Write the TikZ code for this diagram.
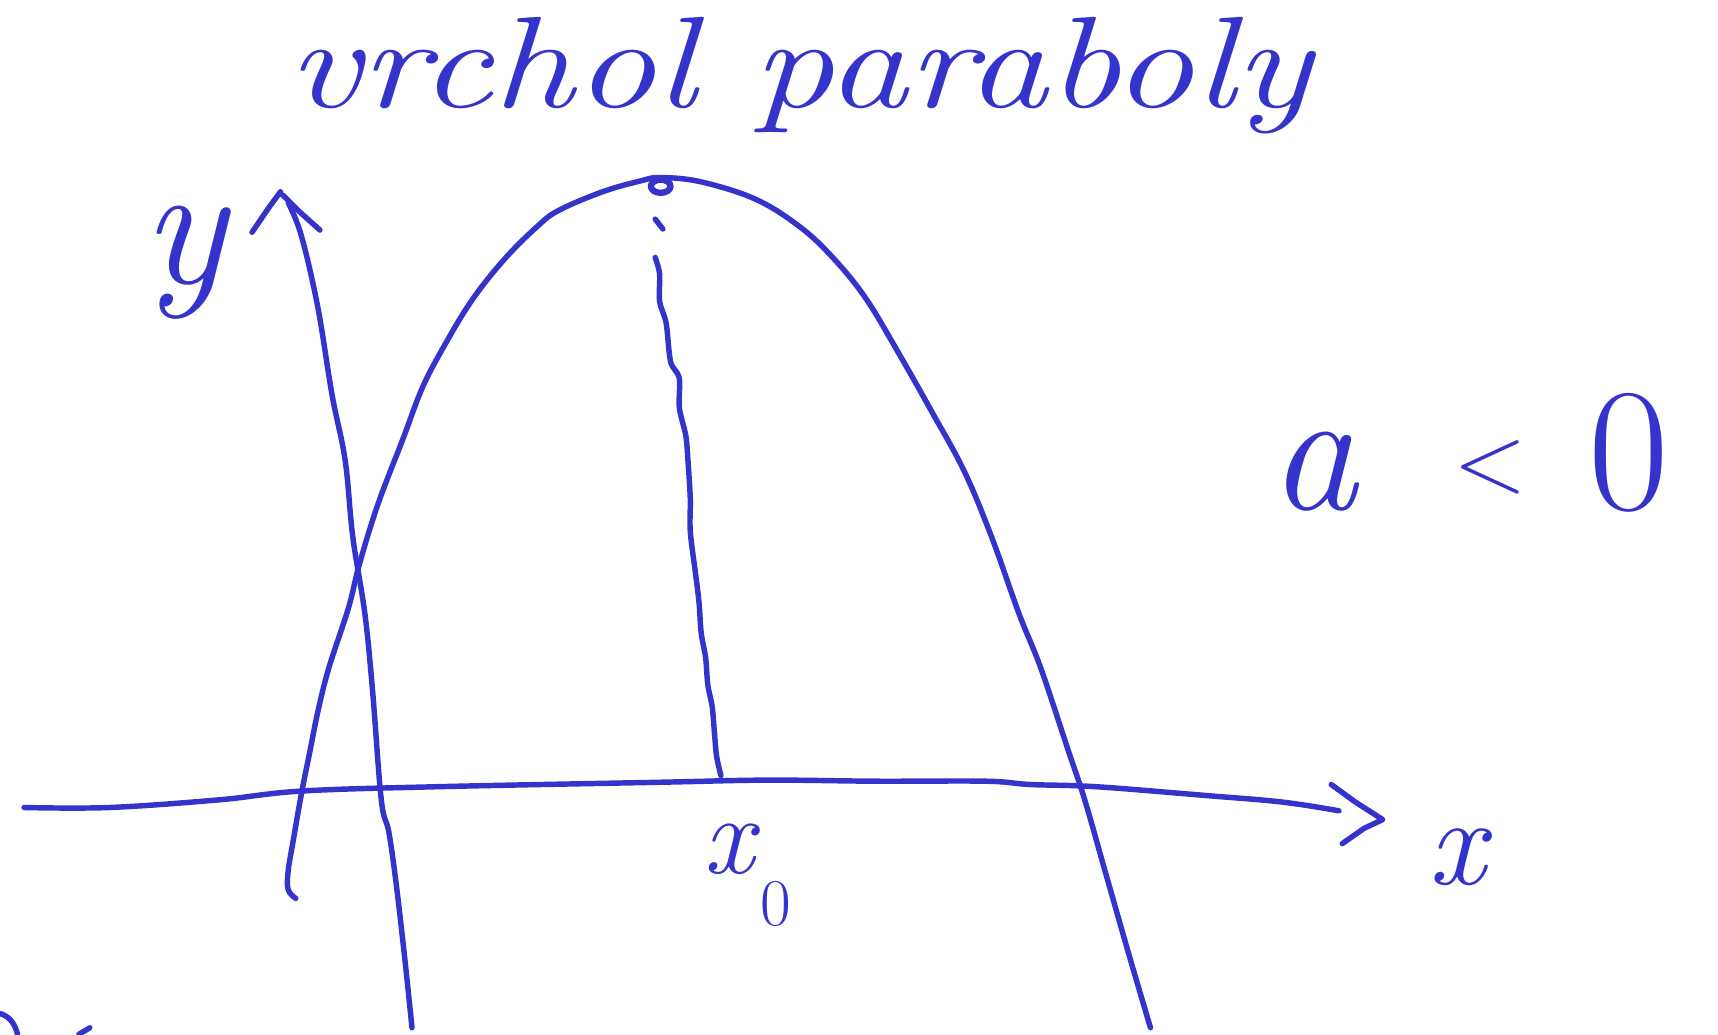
\documentclass[tikz,border=0pt]{standalone}
\usepackage{fontspec}
\definecolor{ink}{RGB}{52,52,204}
\tikzset{
  pen/.style={draw=ink,line width=3.1pt,line cap=round,line join=round},
  hand/.style={text=ink,inner sep=0pt,font=\itshape},
}
\begin{document}
\begin{tikzpicture}[x=0.021914cm,y=-0.021914cm]
\useasboundingbox (0,0) rectangle (1568,944);
% title
\node[hand,font=\fontsize{74}{76}\selectfont\itshape,anchor=base west,xscale=1.25,transform shape] (title) at (262,98) {vrchol paraboly};
% parabola
\draw[pen] plot[smooth,tension=0.6] coordinates {(270,820) (263,812) (263,795) (268,765) (275,725) (283,685) (290,650) (300,610) (318,555) (328,515) (345,460) (368,400) (385,355) (403,320) (430,275) (460,237) (490,207) (510,192) (550,175) (585,165) (603,162) (640,166) (690,182) (730,207) (760,235) (790,272) (820,322) (850,375) (880,430) (905,490) (930,560) (950,610) (975,685) (990,730) (1010,800) (1030,870) (1050,938)};
\coordinate (vertex) at (603,170);
\draw[pen,line width=3.6pt] (vertex) ellipse [x radius=9, y radius=6];
% y axis
\draw[pen] plot[smooth,tension=0.6] coordinates {(376,938) (370,880) (362,810) (355,760) (348,730) (340,630) (333,560) (322,490) (315,420) (303,360) (290,280) (275,215) (263,185)};
\coordinate (ytip) at (256,175);
\draw[pen] (230,212) -- (245,190) -- (ytip) (258,178) -- (272,192) -- (292,210);
\node[hand,font=\fontsize{100}{100}\selectfont\itshape] (ylab) at (168,240) {y};
% x axis
\draw[pen] plot[smooth,tension=0.6] coordinates {(22,737) (100,737) (200,730) (275,722) (400,718) (600,714) (700,712) (800,713) (900,713) (940,716) (1000,718) (1100,726) (1170,732) (1222,740)};
\coordinate (xtip) at (1262,748);
\draw[pen] (1215,716) -- (1237,732) -- (xtip) -- (1245,756) -- (1225,770);
\node[hand,font=\fontsize{72}{72}\selectfont\itshape] (xlab) at (1330,782) {x};
% dashed vertical from vertex to x0
\draw[pen] (598,200) -- (605,209);
\draw[pen] plot[smooth,tension=0.5] coordinates {(598,235) (602,250) (602,275) (608,295) (612,330) (620,345) (620,372) (626,398) (628,422) (630,455) (630,485) (635,525) (638,550) (640,578) (644,600) (646,625) (650,645) (652,668) (654,690) (658,708)};
\node[hand,font=\fontsize{64}{64}\selectfont\itshape,anchor=base west] (x0lab) at (642,797) {x\hspace{0.05em}\raisebox{-30pt}{\fontsize{38}{38}\selectfont\upshape 0}};
% a < 0
\node[hand,font=\fontsize{100}{100}\selectfont,anchor=base west] (cond) at (1158,465) {{\itshape a}\hspace{0.55em}\raisebox{0.1em}{\fontsize{55}{55}\selectfont <}\hspace{0.35em}0};
% cut-off strokes at bottom left
\draw[pen] (0,925) .. controls (10,928) and (14,936) .. (16,944);
\draw[pen] (72,944) -- (82,938);
\end{tikzpicture}
\end{document}
